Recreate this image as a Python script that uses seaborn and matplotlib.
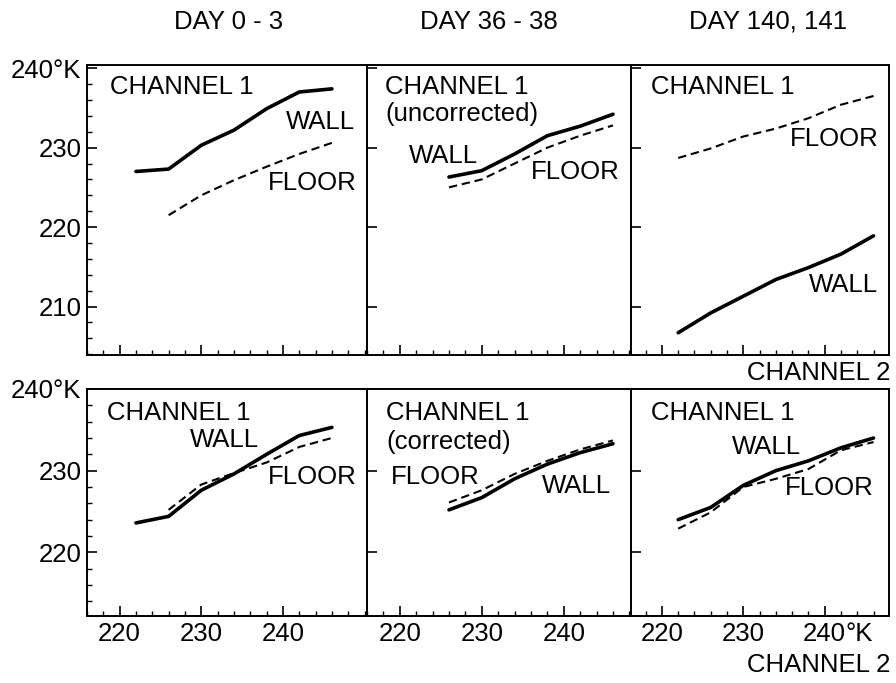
import matplotlib
matplotlib.use("Agg")
import matplotlib.pyplot as plt
import seaborn as sns
import pandas as pd
from matplotlib.ticker import MultipleLocator, FixedLocator

sns.set_theme(style="white")
plt.rcParams['font.family'] = ['Liberation Sans', 'DejaVu Sans']

# ---- data (Channel 2 temperature on x, Channel 1 temperature on y) ----
day_titles = ["DAY 0 - 3", "DAY 36 - 38", "DAY 140, 141"]

x7 = [222, 226, 230, 234, 238, 242, 246]
x6 = [226, 230, 234, 238, 242, 246]

# top row (Channel 1 uncorrected)
tl_wall_x = x7
tl_wall_y = [227.0, 227.3, 230.3, 232.2, 234.9, 237.0, 237.4]
tl_floor_x = x6
tl_floor_y = [221.5, 224.0, 225.9, 227.6, 229.2, 230.6]

tm_wall_x = x6
tm_wall_y = [226.3, 227.1, 229.2, 231.5, 232.7, 234.2]
tm_floor_x = x6
tm_floor_y = [225.0, 226.0, 228.0, 230.0, 231.5, 232.8]

tr_wall_x = x7
tr_wall_y = [206.7, 209.2, 211.3, 213.4, 214.9, 216.6, 218.9]
tr_floor_x = x7
tr_floor_y = [228.7, 229.9, 231.4, 232.4, 233.7, 235.4, 236.5]

# bottom row (Channel 1 corrected)
bl_wall_x = x7
bl_wall_y = [223.6, 224.4, 227.6, 229.6, 232.0, 234.3, 235.3]
bl_floor_x = x6
bl_floor_y = [225.2, 228.3, 229.7, 231.0, 232.9, 234.0]

bm_wall_x = x6
bm_wall_y = [225.2, 226.7, 229.0, 230.8, 232.2, 233.3]
bm_floor_x = x6
bm_floor_y = [226.1, 227.6, 229.6, 231.2, 232.6, 233.7]

br_wall_x = x7
br_wall_y = [224.0, 225.5, 228.2, 230.0, 231.2, 232.8, 234.0]
br_floor_x = x7
br_floor_y = [222.9, 224.9, 228.0, 229.0, 230.2, 232.5, 233.5]

top_yticks = [210, 220, 230, 240]
top_yticklabels = ["210", "220", "230", "240°K"]
bot_yticks = [220, 230, 240]
bot_yticklabels = ["220", "230", "240°K"]
xticks = [220, 230, 240]
xticklabels = ["220", "230", "240"]
unit_suffix = "°K"

series = {
    (0, 0): (tl_wall_x, tl_wall_y, tl_floor_x, tl_floor_y),
    (0, 1): (tm_wall_x, tm_wall_y, tm_floor_x, tm_floor_y),
    (0, 2): (tr_wall_x, tr_wall_y, tr_floor_x, tr_floor_y),
    (1, 0): (bl_wall_x, bl_wall_y, bl_floor_x, bl_floor_y),
    (1, 1): (bm_wall_x, bm_wall_y, bm_floor_x, bm_floor_y),
    (1, 2): (br_wall_x, br_wall_y, br_floor_x, br_floor_y),
}

# ---- layout ----
W, H = 896, 683
fig = plt.figure(figsize=(W / 100, H / 100), dpi=100)

def px_rect(x0, y0, x1, y1):
    return [x0 / W, 1 - y1 / H, (x1 - x0) / W, (y1 - y0) / H]

col_px = [(87, 367), (367, 631), (631, 889)]
col_xlim = [(216.0, 250.3), (216.0, 248.2), (216.2, 247.9)]
row_px = [(65, 355), (389, 616)]
row_ylim = [(203.9, 240.4), (212.2, 240.0)]

FS = 18.5
XPAD = 4

def ftext(x, y, s, ha="left", va="center"):
    fig.text(x / W, 1 - y / H, s, ha=ha, va=va, fontsize=FS, color="black")

for r in range(2):
    for c in range(3):
        ax = fig.add_axes(px_rect(col_px[c][0], row_px[r][0], col_px[c][1], row_px[r][1]))
        wx, wy, fx, fy = series[(r, c)]
        dw = pd.DataFrame({"ch2": wx, "ch1": wy})
        dfl = pd.DataFrame({"ch2": fx, "ch1": fy})
        sns.lineplot(data=dw, x="ch2", y="ch1", ax=ax, color="black", lw=2.6,
                     estimator=None, sort=False)
        sns.lineplot(data=dfl, x="ch2", y="ch1", ax=ax, color="black", lw=1.5,
                     estimator=None, sort=False, dashes=False, linestyle=(0, (4, 2.3)))
        ax.set_xlim(*col_xlim[c])
        ax.set_ylim(*row_ylim[r])
        ax.set_xlabel("")
        ax.set_ylabel("")
        for sp in ax.spines.values():
            sp.set_color("black")
            sp.set_linewidth(1.4)
        ax.xaxis.set_major_locator(FixedLocator(xticks))
        ax.xaxis.set_minor_locator(MultipleLocator(2))
        yt = top_yticks if r == 0 else bot_yticks
        ax.yaxis.set_major_locator(FixedLocator(yt))
        if c == 0:
            ax.yaxis.set_minor_locator(MultipleLocator(2))
            ax.set_yticklabels(top_yticklabels if r == 0 else bot_yticklabels, fontsize=FS)
        else:
            ax.set_yticklabels([])
        if r == 1:
            ax.set_xticklabels(xticklabels, fontsize=FS)
        else:
            ax.set_xticklabels([])
        ax.tick_params(axis="both", which="major", direction="in", length=7, width=1.2,
                       color="black", labelcolor="black", pad=XPAD,
                       bottom=True, left=True, top=False, right=False)
        ax.tick_params(axis="both", which="minor", direction="in", length=3.5, width=1.0,
                       color="black", bottom=True, left=True, top=False, right=False)
        ax.tick_params(axis="y", which="major", pad=4)
        if r == 1 and c == 2:
            # unit suffix following the last x tick label ("240°K")
            ax.annotate(unit_suffix, xy=(xticks[-1], 0), xycoords=("data", "axes fraction"),
                        xytext=(15.3, -XPAD), textcoords="offset points",
                        ha="left", va="top", fontsize=FS, color="black",
                        annotation_clip=False)

# column titles
ftext(229, 22, day_titles[0], ha="center")
ftext(489, 22, day_titles[1], ha="center")
ftext(768, 22, day_titles[2], ha="center")

# panel annotations (top row)
ftext(110, 87, "CHANNEL 1")
ftext(355, 122, "WALL", ha="right")
ftext(357, 183, "FLOOR", ha="right")

ftext(385, 87, "CHANNEL 1")
ftext(385, 114, "(uncorrected)")
ftext(409, 156, "WALL")
ftext(620, 172, "FLOOR", ha="right")

ftext(651, 87, "CHANNEL 1")
ftext(879, 139, "FLOOR", ha="right")
ftext(878, 285, "WALL", ha="right")

# bottom row
ftext(107, 413, "CHANNEL 1")
ftext(259, 440, "WALL", ha="right")
ftext(357, 477, "FLOOR", ha="right")

ftext(386, 413, "CHANNEL 1")
ftext(386, 442, "(corrected)")
ftext(391, 477, "FLOOR")
ftext(611, 486, "WALL", ha="right")

ftext(651, 413, "CHANNEL 1")
ftext(801, 447, "WALL", ha="right")
ftext(874, 488, "FLOOR", ha="right")

# channel 2 labels
ftext(890, 373, "CHANNEL 2", ha="right")
ftext(890, 665, "CHANNEL 2", ha="right")

fig.savefig("out.png", dpi=100, facecolor="white")
